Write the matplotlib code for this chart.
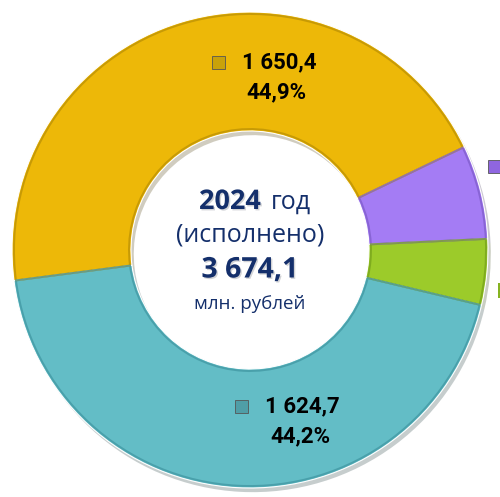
import matplotlib.pyplot as plt
import matplotlib.patheffects as pe
from matplotlib.patches import Rectangle, Wedge

# данные (млн. рублей), по часовой стрелке начиная с жёлтого сектора
names = ["yellow", "purple", "green", "teal"]
values = [1650.4, 234.7, 164.3, 1624.7]
colors = ["#EDB808", "#A47CF4", "#9CCB2A", "#63BDC6"]
edges = ["#B88E05", "#7D5AC8", "#74A01A", "#3F95A0"]
total = 3674.1

W, H = 500, 497
fig = plt.figure(figsize=(5, 4.97), dpi=100)
ax = fig.add_axes([0, 0, 1, 1])

cx, cy, R = 250, H - 250, 238

wedges, _ = ax.pie(values, colors=colors, startangle=187.4, counterclock=False,
                   radius=R, center=(cx, cy), frame=True,
                   wedgeprops=dict(width=R * 0.5, edgecolor="white", linewidth=0.8))
ax.set_xlim(0, W)
ax.set_ylim(0, H)
ax.set_aspect("equal")
ax.axis("off")
for w, ec in zip(wedges, edges):
    w.set_path_effects([pe.SimplePatchShadow(offset=(2, -3), alpha=0.25),
                        pe.Normal()])
    # bevel-like inner rim
    ax.add_patch(Wedge((cx, cy), R - 2, w.theta1, w.theta2, width=R * 0.5 - 4,
                       fill=False, edgecolor=ec, linewidth=1.4, alpha=0.7))

narrow = ["Roboto", "DejaVu Sans"]
share = [v / total * 100 for v in values]

def label(xt, y, xp, val, pct, mcol):
    py = H - y
    ax.add_patch(Rectangle((xt - 30, py - 7), 13, 13, facecolor=mcol,
                           edgecolor="#555555", linewidth=0.6))
    ax.text(xt, py, val, ha="left", va="center", fontsize=16,
            fontweight="bold", family=narrow, color="black")
    ax.text(xp, py - 30, pct, ha="center", va="center", fontsize=16,
            fontweight="bold", family=narrow, color="black")

label(242, 62, 276, "1 650,4", f"{share[0]:.1f}%".replace(".", ","), "#C9A20A")
label(265, 406, 300, "1 624,7", f"{share[3]:.1f}%".replace(".", ","), "#4F9EA7")

# обрезанные подписи мелких секторов (маркеры у правого края)
ax.add_patch(Rectangle((488, H - 173), 13, 13, facecolor="#8F66E0",
                       edgecolor="#555555", linewidth=0.6))
ax.add_patch(Rectangle((497.5, H - 298), 13, 15, facecolor="#86B321",
                       edgecolor="none"))

navy = "#142F6B"
shadow = [pe.SimplePatchShadow(offset=(1, -1), alpha=0.18), pe.Normal()]
font = ["Open Sans", "DejaVu Sans"]
ax.text(261, H - 202, "2024", ha="right", va="center", fontsize=19.5,
        fontweight="bold", family=font, color=navy, path_effects=shadow)
ax.text(271, H - 202, "год", ha="left", va="center", fontsize=18,
        family=font, color=navy)
ax.text(250, H - 235, "(исполнено)", ha="center", va="center", fontsize=18,
        family=font, color=navy)
ax.text(250, H - 270, "3 674,1", ha="center", va="center", fontsize=20.5,
        fontweight="bold", family=font, color=navy, path_effects=shadow)
ax.text(250, H - 304, "млн. рублей", ha="center", va="center", fontsize=13.5,
        family=font, color=navy)

fig.savefig("out.png", dpi=100)
